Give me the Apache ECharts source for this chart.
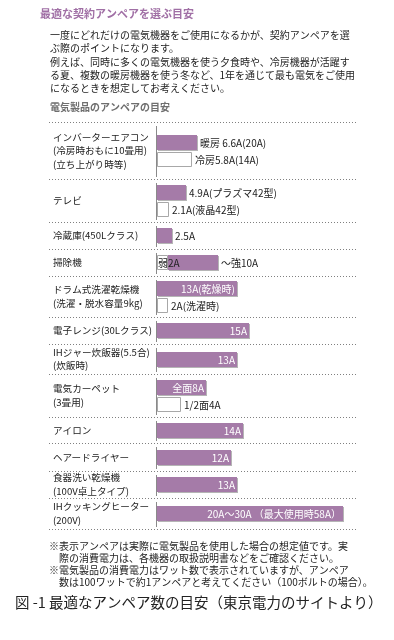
<!DOCTYPE html>
<html><head><meta charset="utf-8">
<script src="https://cdn.jsdelivr.net/npm/echarts@6/dist/echarts.min.js"></script>
<style>html,body{margin:0;padding:0;background:#fff;}#c{width:394px;height:640px;}</style>
</head><body><div id="c"></div>
<script>
// ---------- DATA ----------
const categories = [
  'インバーターエアコン\n(冷房時おもに10畳用)\n(立ち上がり時等)',
  'テレビ',
  '冷蔵庫(450Lクラス)',
  '掃除機',
  'ドラム式洗濯乾燥機\n(洗濯・脱水容量9kg)',
  '電子レンジ(30Lクラス)',
  'IHジャー炊飯器(5.5合)\n(炊飯時)',
  '電気カーペット\n(3畳用)',
  'アイロン',
  'ヘアードライヤー',
  '食器洗い乾燥機\n(100V卓上タイプ)',
  'IHクッキングヒーター\n(200V)'
];
const primaryValues = [6.6, 4.9, 2.5, 10, 13, 15, 13, 8, 14, 12, 13, 30];
const primaryLabels = ['暖房 6.6A(20A)', '4.9A(プラズマ42型)', '2.5A', '～強10A', '13A(乾燥時)', '15A', '13A', '全面8A', '14A', '12A', '13A', '20A～30A （最大使用時58A）'];
const secondaryValues = [5.8, 2.1, null, 2, 2, null, null, 4, null, null, null, null];
const secondaryLabels = ['冷房5.8A(14A)', '2.1A(液晶42型)', null, '弱2A', '2A(洗濯時)', null, null, '1/2面4A', null, null, null, null];

const titleText = '最適な契約アンペアを選ぶ目安';
const introLines = [
  '一度にどれだけの電気機器をご使用になるかが、契約アンペアを選',
  'ぶ際のポイントになります。',
  '例えば、同時に多くの電気機器を使う夕食時や、冷房機器が活躍す',
  'る夏、複数の暖房機器を使う冬など、1年を通じて最も電気をご使用',
  'になるときを想定してお考えください。'
];
const subTitleText = '電気製品のアンペアの目安';
const noteLines = [
  '※表示アンペアは実際に電気製品を使用した場合の想定値です。実',
  '際の消費電力は、各機器の取扱説明書などをご確認ください。',
  '※電気製品の消費電力はワット数で表示されていますが、アンペア',
  '数は100ワットで約1アンペアと考えてください（100ボルトの場合）。'
];
const captionText = '図 -1 最適なアンペア数の目安（東京電力のサイトより）';

// ---------- LAYOUT / STYLE ----------
const FONT = '"Noto Sans CJK JP", "Noto Sans CJK SC", sans-serif';
const PURPLE = '#a57ba8';
const ROW_H = [57, 43, 27, 27, 41, 27, 30, 43, 26, 28, 27, 31];
const TOTAL_H = ROW_H.reduce((a, b) => a + b, 0);
const primaryInside = [false, false, false, false, true, true, true, true, true, true, true, true];
const secondaryInline = [false, false, false, true, false, false, false, false, false, false, false, false];
const BAR_H = 15, BAR_PITCH = 17;

function rowTop(i) { let s = 0; for (let k = 0; k < i; k++) s += ROW_H[k]; return s; }

// build bar list from data arrays
const bars = [];
categories.forEach((c, i) => {
  const hasSecond = secondaryValues[i] != null && !secondaryInline[i];
  const n = hasSecond ? 2 : 1;
  if (secondaryInline[i]) {
    bars.push({ row: i, slot: 0, n: 1, start: 0, end: secondaryValues[i], kind: 'sub', label: null });
    bars.push({ row: i, slot: 0, n: 1, start: secondaryValues[i], end: primaryValues[i], kind: 'main', label: primaryLabels[i], labelPos: 'outside' });
    bars.push({ row: i, slot: 0, n: 1, start: 0, end: secondaryValues[i], kind: 'labelOnly', label: secondaryLabels[i], labelPos: 'insideLeft' });
  } else {
    bars.push({ row: i, slot: 0, n: n, start: 0, end: primaryValues[i], kind: 'main', label: primaryLabels[i], labelPos: primaryInside[i] ? 'insideRight' : 'outside' });
    if (hasSecond) bars.push({ row: i, slot: 1, n: n, start: 0, end: secondaryValues[i], kind: 'sub', label: secondaryLabels[i], labelPos: 'outside' });
  }
});

const chart = echarts.init(document.getElementById('c'), null, { renderer: 'canvas' });

function txt(x, y, text, size, color, weight, align) {
  return { type: 'text', x: x, y: y, silent: true,
    style: { text: text, fill: color, font: (weight || 'normal') + ' ' + size + 'px ' + FONT,
      align: align || 'left', verticalAlign: 'middle', textAlign: align || 'left', textVerticalAlign: 'middle' } };
}
const graphics = [];
graphics.push(txt(40, 14, titleText, 11, '#a06fa5', 'bold'));
const introY = [35, 48, 62, 75, 88];
introLines.forEach((l, i) => graphics.push(txt(50, introY[i], l, 10, '#222')));
graphics.push(txt(50, 107, subTitleText, 10, '#6e6e6e', 'bold'));
const noteY = [546, 558, 570, 582];
const noteX = [49, 59, 49, 59];
noteLines.forEach((l, i) => graphics.push(txt(noteX[i], noteY[i], l, 10, '#222')));
graphics.push(txt(15, 602, captionText, 14.5, '#222'));

const option = {
  backgroundColor: '#fff',
  animation: false,
  grid: { left: 156, top: 122, width: 199, height: TOTAL_H },
  xAxis: { type: 'value', min: 0, max: 32, show: false },
  yAxis: { type: 'value', min: 0, max: TOTAL_H, inverse: true, show: false },
  graphic: graphics,
  series: [
    {
      type: 'custom', name: 'rows', clip: false, silent: true,
      data: categories.map((c, i) => [0, i]),
      renderItem: function (params, api) {
        const i = params.dataIndex;
        const top = rowTop(i), h = ROW_H[i];
        const pTop = api.coord([0, top]);
        const pBot = api.coord([0, top + h]);
        const pMid = api.coord([0, top + h / 2]);
        const x0 = pTop[0];
        const children = [];
        const sepStyle = { stroke: '#808080', lineWidth: 1, lineDash: [1, 2] };
        children.push({ type: 'line', shape: { x1: x0 - 107, y1: Math.round(pTop[1]) + 0.5, x2: x0 + 201, y2: Math.round(pTop[1]) + 0.5 }, style: sepStyle });
        if (i === categories.length - 1) {
          children.push({ type: 'line', shape: { x1: x0 - 107, y1: Math.round(pBot[1]) + 0.5, x2: x0 + 201, y2: Math.round(pBot[1]) + 0.5 }, style: sepStyle });
        }
        children.push({ type: 'line', shape: { x1: x0 + 0.5, y1: pTop[1] + 4, x2: x0 + 0.5, y2: pBot[1] - 2 }, style: { stroke: '#8a8a8a', lineWidth: 1 } });
        children.push({ type: 'text', style: { text: categories[i], x: x0 - 103, y: pMid[1], fill: '#222',
          font: 'normal 9.6px ' + FONT, lineHeight: 13.5, align: 'left', verticalAlign: 'middle', textAlign: 'left', textVerticalAlign: 'middle' } });
        return { type: 'group', children: children };
      }
    },
    {
      type: 'custom', name: 'bars', clip: false, silent: true,
      data: bars.map(b => [b.end, b.row]),
      renderItem: function (params, api) {
        const b = bars[params.dataIndex];
        const top = rowTop(b.row), h = ROW_H[b.row];
        const cy = top + h / 2 + (b.slot - (b.n - 1) / 2) * BAR_PITCH;
        const p0 = api.coord([b.start, cy]);
        const p1 = api.coord([b.end, cy]);
        const bh = api.size([0, BAR_H])[1];
        const y = Math.round(p0[1] - bh / 2);
        const x = Math.round(p0[0]) + (b.start === 0 ? 1 : 0);
        const w = Math.round(p1[0]) - x;
        const children = [];
        if (b.kind === 'main') {
          children.push({ type: 'rect', shape: { x: x + 1, y: y + 1, width: w, height: bh }, style: { fill: '#b5b5b5' } });
          children.push({ type: 'rect', shape: { x: x, y: y, width: w, height: bh }, style: { fill: PURPLE } });
        } else if (b.kind === 'sub') {
          children.push({ type: 'rect', shape: { x: x + 0.5, y: y + 0.5, width: w - 1, height: bh - 1 }, style: { fill: '#fff', stroke: '#a8a8a8', lineWidth: 1 } });
        }
        if (b.label) {
          let lx, al, col;
          if (b.labelPos === 'insideRight') { lx = x + w - 2; al = 'right'; col = '#fff'; }
          else if (b.labelPos === 'insideLeft') { lx = x + 1; al = 'left'; col = '#222'; }
          else { lx = x + w + 3; al = 'left'; col = '#222'; }
          children.push({ type: 'text', z2: 10, style: { text: b.label, x: lx, y: y + bh / 2 + 0.5, fill: col,
            font: 'normal 10px ' + FONT, align: al, verticalAlign: 'middle', textAlign: al, textVerticalAlign: 'middle' } });
        }
        return { type: 'group', children: children };
      }
    }
  ]
};
chart.setOption(option);
</script>
</body></html>
